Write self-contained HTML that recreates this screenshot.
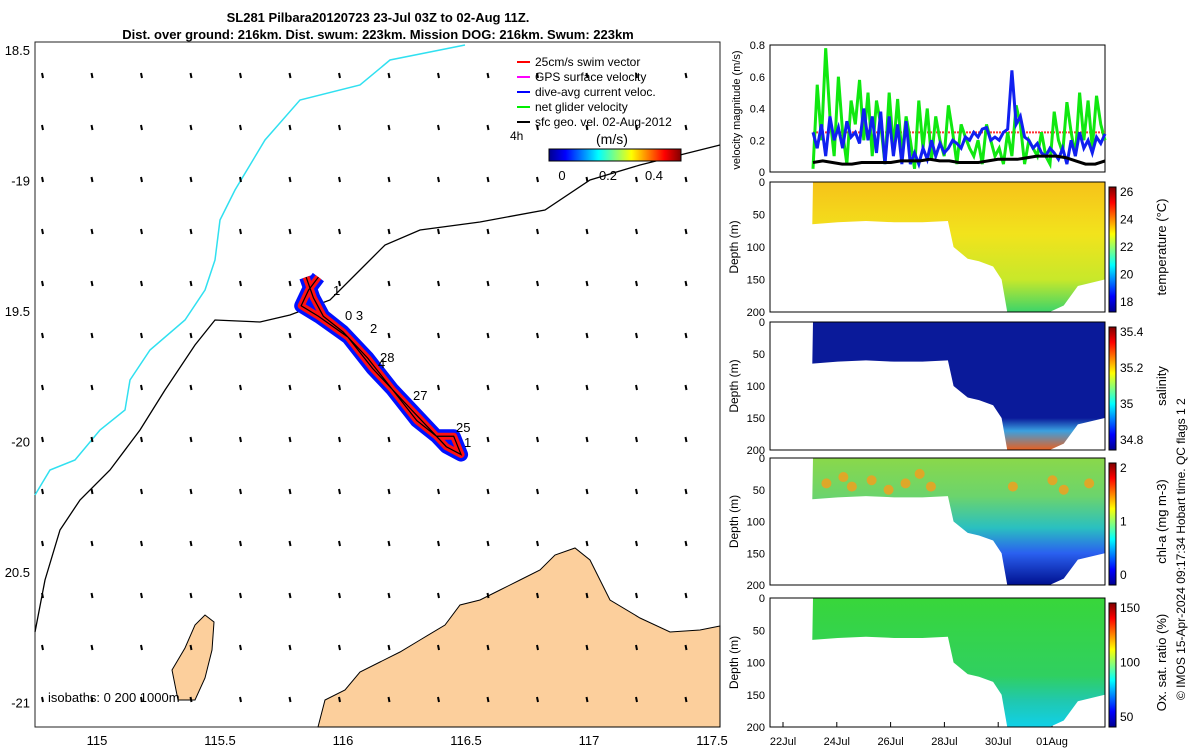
<!DOCTYPE html>
<html><head><meta charset="utf-8"><style>
body{margin:0;background:#fff;}
svg{font-family:"Liberation Sans",sans-serif;}
</style></head><body>
<svg id="s" width="1200" height="750" viewBox="0 0 1200 750">
<rect width="1200" height="750" fill="#fff"/>
<defs>
<linearGradient id="jet" x1="0" y1="0" x2="1" y2="0">
<stop offset="0" stop-color="#00008f"/><stop offset="0.125" stop-color="#0000ff"/><stop offset="0.375" stop-color="#00ffff"/><stop offset="0.625" stop-color="#ffff00"/><stop offset="0.875" stop-color="#ff0000"/><stop offset="1" stop-color="#800000"/></linearGradient>
<linearGradient id="jetv" x1="0" y1="1" x2="0" y2="0">
<stop offset="0" stop-color="#00008f"/><stop offset="0.125" stop-color="#0000ff"/><stop offset="0.375" stop-color="#00ffff"/><stop offset="0.625" stop-color="#ffff00"/><stop offset="0.875" stop-color="#ff0000"/><stop offset="1" stop-color="#800000"/></linearGradient>
<linearGradient id="tempG" x1="0" y1="0" x2="0" y2="1"><stop offset="0" stop-color="#f6c21a"/><stop offset="0.4" stop-color="#f2e31c"/><stop offset="0.75" stop-color="#c8e82a"/><stop offset="1" stop-color="#3cd46a"/></linearGradient>
<linearGradient id="salG" x1="0" y1="0" x2="0" y2="1"><stop offset="0" stop-color="#0a1a9a"/><stop offset="0.75" stop-color="#0a1a9a"/><stop offset="0.85" stop-color="#3aa0e0"/><stop offset="1" stop-color="#e86020"/></linearGradient>
<linearGradient id="chlG" x1="0" y1="0" x2="0" y2="1"><stop offset="0" stop-color="#8ad84a"/><stop offset="0.3" stop-color="#6cd46c"/><stop offset="0.55" stop-color="#2ac0c0"/><stop offset="0.75" stop-color="#2a60f0"/><stop offset="1" stop-color="#00108f"/></linearGradient>
<linearGradient id="oxG" x1="0" y1="0" x2="0" y2="1"><stop offset="0" stop-color="#38d63a"/><stop offset="0.6" stop-color="#30d060"/><stop offset="0.8" stop-color="#20c8b0"/><stop offset="1" stop-color="#10d0e8"/></linearGradient>
</defs>
<g id="map"></g>
<g id="right"></g>
<text x="378" y="22" font-size="13" font-weight="bold" text-anchor="middle">SL281 Pilbara20120723 23-Jul 03Z to 02-Aug 11Z.</text>
<text x="378" y="39" font-size="13" font-weight="bold" text-anchor="middle">Dist. over ground: 216km. Dist. swum: 223km. Mission DOG: 216km. Swum: 223km</text>
<text transform="translate(1185,700) rotate(-90)" font-size="12">© IMOS 15-Apr-2024 09:17:34 Hobart time. QC flags 1  2</text>
</svg>
<script>
// ---------- data ----------
const lonTicks=[115,115.5,116,116.5,117,117.5];
const latTicks=[-18.5,-19,-19.5,-20,-20.5,-21];
const latLabels=["18.5","-19","19.5","-20","20.5","-21"];
const timeLabels=["22Jul","24Jul","26Jul","28Jul","30Jul","01Aug"];
const timeTickDays=[22,24,26,28,30,32];
const velTicks=[0,0.2,0.4,0.6,0.8];
const greenVel=[0.02,0.55,0.2,0.78,0.35,0.1,0.6,0.25,0.05,0.45,0.3,0.58,0.2,0.5,0.1,0.45,0.3,0.05,0.5,0.15,0.46,0.1,0.35,0.2,0.02,0.45,0.15,0.4,0.08,0.35,0.2,0.1,0.42,0.25,0.05,0.3,0.22,0.15,0.1,0.2,0.05,0.3,0.2,0.1,0.15,0.05,0.25,0.1,0.42,0.3,0.05,0.2,0.15,0.1,0.25,0.1,0.05,0.38,0.2,0.12,0.44,0.25,0.1,0.5,0.2,0.45,0.15,0.48,0.3,0.2];
const blueVel=[0.25,0.15,0.3,0.1,0.35,0.2,0.28,0.15,0.32,0.22,0.25,0.18,0.4,0.2,0.35,0.12,0.38,0.05,0.35,0.1,0.3,0.05,0.32,0.05,0.12,0.05,0.15,0.08,0.2,0.1,0.18,0.12,0.15,0.2,0.18,0.15,0.22,0.2,0.25,0.22,0.27,0.28,0.2,0.22,0.2,0.25,0.27,0.64,0.3,0.35,0.22,0.2,0.15,0.18,0.12,0.1,0.15,0.12,0.08,0.15,0.05,0.2,0.1,0.25,0.15,0.2,0.12,0.22,0.18,0.24];
const blackVel=[0.06,0.07,0.06,0.05,0.05,0.06,0.06,0.06,0.06,0.07,0.07,0.07,0.08,0.07,0.07,0.06,0.06,0.06,0.07,0.08,0.08,0.08,0.09,0.1,0.1,0.1,0.09,0.07,0.05,0.05,0.07];
const swimRef=[0.25];
const bottomDays=[23.1,24,25,26,27,27.9,28.1,28.6,29,29.5,29.8,30,30.5,31,31.5,32,32.5,33.45];
const bottomDepth=[65,62,60,62,62,60,100,118,122,130,150,200,200,200,200,190,160,150];
const chlDotDays=[23.6,24.2,24.5,25.2,25.8,26.4,26.9,27.3,30.2,31.6,32.0,32.9];
const chlDotDepth=[40,30,45,35,50,40,25,45,45,35,50,40];
// track (lon,lat)
const trackLon=[115.85,115.88,115.92,116.0,116.1,116.2,116.3,116.38,116.45,116.48,116.42,116.35,116.25,116.12,116.02,115.9,115.83,115.86,115.9];
const trackLat=[-19.37,-19.45,-19.52,-19.58,-19.68,-19.8,-19.92,-19.98,-19.98,-20.05,-20.02,-19.95,-19.85,-19.72,-19.6,-19.52,-19.48,-19.42,-19.37];

// ---------- helpers ----------
const NS="http://www.w3.org/2000/svg";
function mk(p,t,a){const e=document.createElementNS(NS,t);for(const k in a)e.setAttribute(k,a[k]);p.appendChild(e);return e;}
const lonX=l=>97+(l-115)*246;
function latYf(l){return 50+(-18.5-l)*261;}
const map=document.getElementById('map');
let f=mk(map,'rect',{x:35,y:42,width:685,height:685,fill:'none',stroke:'#222'});

let land=mk(map,'path',{d:'M318,727 L325,700 L345,690 L360,672 L380,662 L400,652 L420,640 L445,625 L460,605 L480,600 L500,590 L520,580 L540,570 L555,555 L575,548 L590,560 L610,600 L640,618 L670,632 L700,630 L720,626 L720,727 Z',fill:'#fccf9c',stroke:'#000','stroke-width':1});

let isl=mk(map,'path',{d:'M172,670 L185,648 L195,625 L205,615 L214,622 L212,650 L205,678 L195,700 L178,700 Z',fill:'#fccf9c',stroke:'#000'});

let cy=mk(map,'polyline',{points:'35,495 50,470 75,460 100,430 125,410 130,380 150,350 185,320 205,290 215,260 220,220 235,190 265,140 300,100 360,85 390,60 465,45',fill:'none',stroke:'#30e0f0','stroke-width':1.5});

let bl=mk(map,'polyline',{points:'35,632 45,580 60,530 80,500 110,470 140,430 165,390 195,345 215,320 260,322 290,315 330,300 360,270 385,245 420,230 480,222 545,210 590,180 640,165 720,145',fill:'none',stroke:'#000','stroke-width':1.3});

for(let gx=42;gx<720;gx+=49.5)for(let gy=76;gy<715;gy+=52){
 const d=mk(map,'line',{x1:gx,y1:gy-3,x2:gx+1,y2:gy+2,stroke:'#000','stroke-width':2});
 
 }
const pts=trackLon.map((l,i)=>lonX(l)+','+latYf(trackLat[i])).join(' ');
let tb=mk(map,'polyline',{points:pts,fill:'none',stroke:'#0010ff','stroke-width':14,'stroke-linejoin':'round'});

let tr=mk(map,'polyline',{points:pts,fill:'none',stroke:'#ff1010','stroke-width':7,'stroke-linejoin':'round'});

let tk=mk(map,'polyline',{points:pts,fill:'none',stroke:'#000','stroke-width':1.2});

[["1",333,295],["0 3",345,320],["2",370,333],["28",380,362],["4",378,368],["27",413,400],["25",456,432],["1",464,447]].forEach(a=>{const t=mk(map,'text',{x:a[1],y:a[2],'font-size':13});t.textContent=a[0];
});
lonTicks.forEach(l=>{const t=mk(map,'text',{x:lonX(l),y:745,'font-size':13,'text-anchor':'middle'});t.textContent=l;
});
latTicks.forEach((l,i)=>{const t=mk(map,'text',{x:30,y:latYf(l)+5,'font-size':13,'text-anchor':'end'});t.textContent=latLabels[i];
});
let iso=mk(map,'text',{x:48,y:702,'font-size':13});iso.textContent='isobaths: 0   200  1000m';

const leg=[["25cm/s swim vector","#f00"],["GPS surface velocity","#f0f"],["dive-avg current veloc.","#00f"],["net glider velocity","#0e0"],["sfc geo. vel. 02-Aug-2012","#000"]];
leg.forEach((e,i)=>{const y=66+i*15;const l=mk(map,'line',{x1:517,y1:y-4,x2:530,y2:y-4,stroke:e[1],'stroke-width':2});

const t=mk(map,'text',{x:535,y:y,'font-size':12});t.textContent=e[0];
});
let h4=mk(map,'text',{x:510,y:140,'font-size':12});h4.textContent='4h';
let ms=mk(map,'text',{x:596,y:144,'font-size':14});ms.textContent='(m/s)';
let cb=mk(map,'rect',{x:549,y:149,width:132,height:12,fill:'url(#jet)',stroke:'#000'});
[["0",562],["0.2",608],["0.4",654]].forEach(a=>{const t=mk(map,'text',{x:a[1],y:180,'font-size':13,'text-anchor':'middle'});t.textContent=a[0];
});

// ---------- right panels ----------
const R=document.getElementById('right');
const X0=813,X1=1105,D0=23.125,D1=33.46;
const tx=d=>X0+(d-D0)/(D1-D0)*(X1-X0);
timeTickDays.forEach((d,i)=>{const x=783+(d-22)*26.9;const t=mk(R,'text',{x:x,y:745,'font-size':11,'text-anchor':'middle'});t.textContent=timeLabels[i];

mk(R,'line',{x1:x,y1:727,x2:x,y2:722,stroke:'#000'});});
const vy=v=>172-v/0.8*127;
let vf=mk(R,'rect',{x:770,y:45,width:335,height:127,fill:'none',stroke:'#000'});
velTicks.forEach(v=>{const t=mk(R,'text',{x:765,y:vy(v)+4,'font-size':11,'text-anchor':'end'});t.textContent=v;
});
let vt=mk(R,'text',{transform:'translate(740,110) rotate(-90)','font-size':11,'text-anchor':'middle'});vt.textContent='velocity magnitude (m/s)';

const sx=(arr,i)=>X0+i/(arr.length-1)*(X1-X0);
let ref=mk(R,'line',{x1:X0,x2:X1,y1:vy(swimRef[0]),y2:vy(swimRef[0]),stroke:'#f33','stroke-width':2,'stroke-dasharray':'2,1'});

[[greenVel,'#10e810',3,'net-glider-velocity-line'],[blueVel,'#1020f0',3,'dive-avg-current-line'],[blackVel,'#000',3,'geostrophic-velocity-line']].forEach(s=>{
 const p=mk(R,'polyline',{points:s[0].map((v,i)=>sx(s[0],i)+','+vy(v)).join(' '),fill:'none',stroke:s[1],'stroke-width':s[2]});
 });
const panels=[[182,312,'tempG','temperature (°C)',["26","24","22","20","18"],'temperature-section'],[322,450,'salG','salinity',["35.4","35.2","35","34.8"],'salinity-section'],[458,585,'chlG','chl-a (mg m-3)',["2","1","0"],'chla-section'],[598,727,'oxG','Ox. sat. ratio (%)',["150","100","50"],'oxygen-section']];
panels.forEach(p=>{const [y0,y1,g,lab,cl,nm]=p;const dy=d=>y0+d/200*(y1-y0);
 const poly=`${X0},${y0} ${X1},${y0} `+bottomDays.slice().reverse().map((d,i)=>{const j=bottomDays.length-1-i;return tx(d)+','+dy(bottomDepth[j]);}).join(' ');
 const sh=mk(R,'polygon',{points:poly,fill:`url(#${g})`});
 if(nm==='chla-section'){chlDotDays.forEach((d,i)=>{const c=mk(R,'circle',{cx:tx(d),cy:dy(chlDotDepth[i]),r:5,fill:'#f0a020',opacity:0.85});
  });}
 const fr=mk(R,'rect',{x:770,y:y0,width:335,height:y1-y0,fill:'none',stroke:'#000'});
 [0,50,100,150,200].forEach(d=>{const t=mk(R,'text',{x:765,y:dy(d)+4,'font-size':11,'text-anchor':'end'});t.textContent=d;
 });
 const yt=mk(R,'text',{transform:`translate(738,${(y0+y1)/2}) rotate(-90)`,'font-size':12,'text-anchor':'middle'});yt.textContent='Depth (m)';
 
 const c=mk(R,'rect',{x:1109,y:y0+5,width:7,height:y1-y0-5,fill:'url(#jetv)',stroke:'#000'});
 cl.forEach((v,i)=>{const t=mk(R,'text',{x:1120,y:y0+14+i*(y1-y0-20)/(cl.length-1),'font-size':12});t.textContent=v;
 });
 const ct=mk(R,'text',{transform:`translate(1166,${(y0+y1)/2}) rotate(-90)`,'font-size':13,'text-anchor':'middle'});ct.textContent=lab;
 
});
</script>
</body></html>
